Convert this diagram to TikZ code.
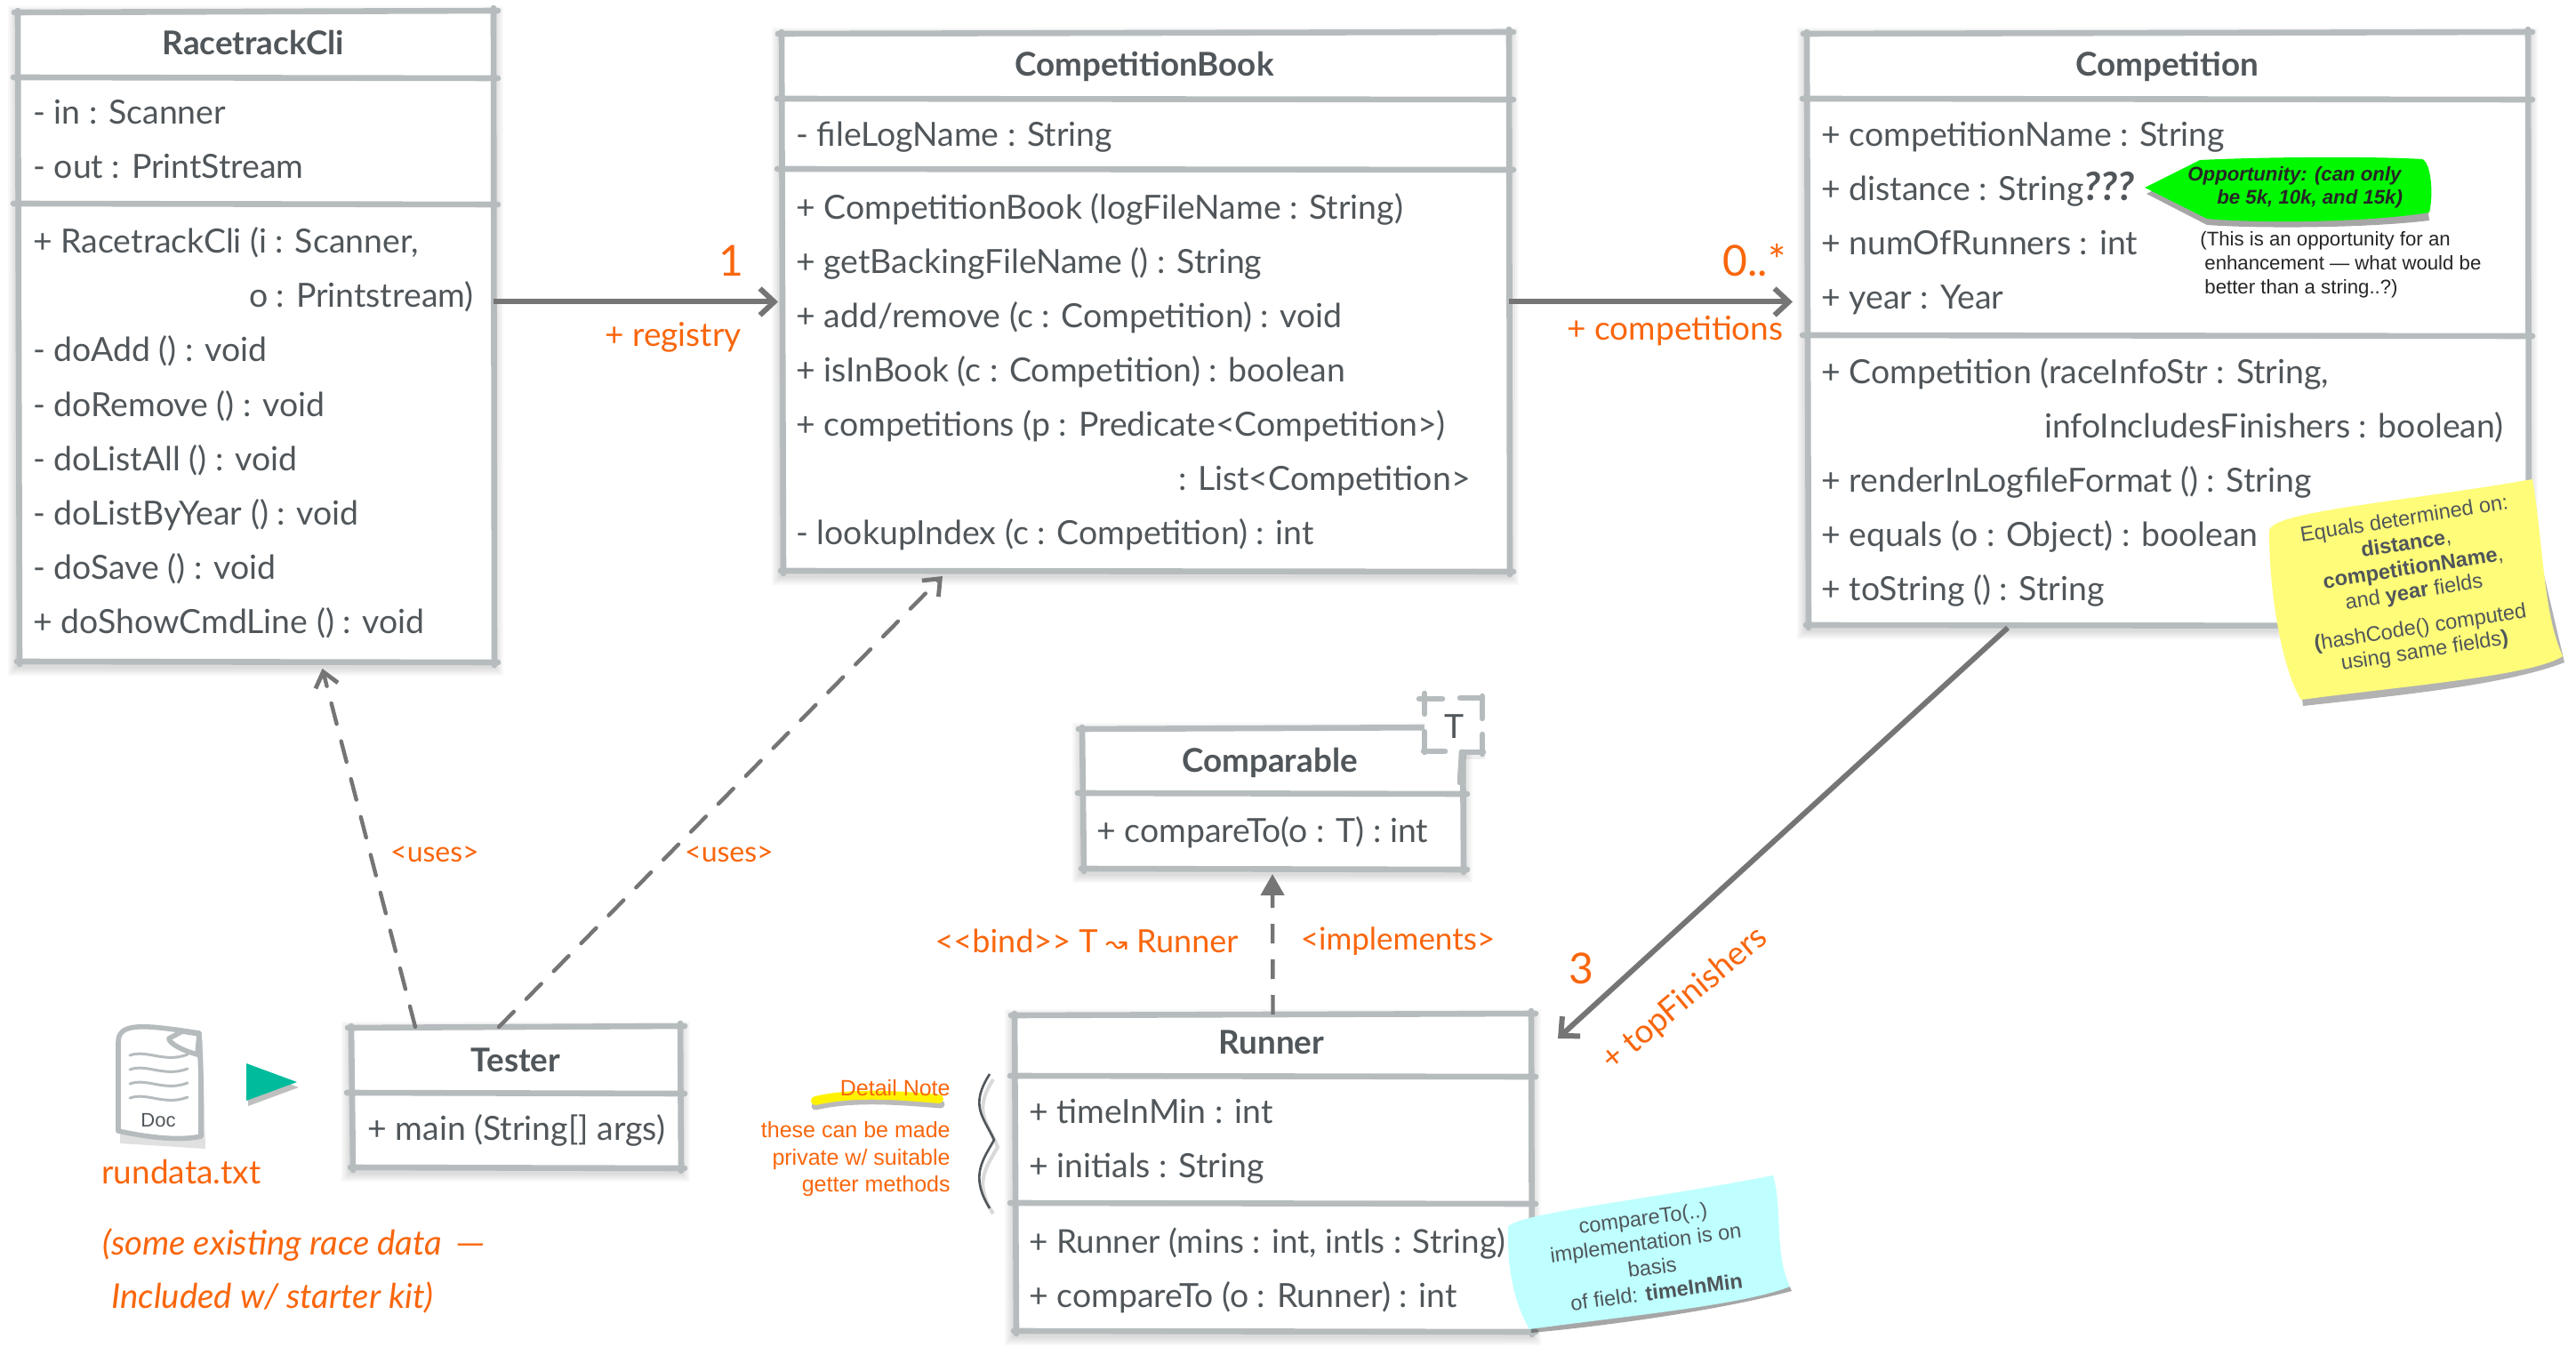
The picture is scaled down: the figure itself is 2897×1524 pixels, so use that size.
\documentclass[tikz,border=0pt]{standalone}
\usepackage{fontspec}
\setmainfont{Lato}
\newfontfamily\helv{Liberation Sans}
\newfontfamily\djv{DejaVu Sans}
\usetikzlibrary{arrows.meta,calc}
\definecolor{edge}{HTML}{B6BCBE}
\definecolor{ink}{HTML}{50565A}
\definecolor{wire}{HTML}{757575}
\definecolor{tang}{HTML}{F9660C}
\definecolor{tealmark}{HTML}{00BC9C}
\definecolor{sticky}{HTML}{FFFC79}
\definecolor{aqua}{HTML}{BFFFFF}
\definecolor{lime}{HTML}{00F900}
\tikzset{
  x=0.5pt,y=-0.5pt,
  boxbody/.style={rectangle,fill=white,inner sep=0pt,outer sep=0pt},
  border/.style={draw=edge,line width=3.3pt,line cap=round},
  rowtext/.style={anchor=mid west,inner sep=0pt,yshift=-3.5pt,text=ink,font=\fontsize{18.7}{23}\selectfont},
  titletext/.style={anchor=mid,inner sep=0pt,yshift=-4.2pt,text=ink,font=\fontsize{18.4}{23}\selectfont\bfseries},
  orangetext/.style={inner sep=0pt,text=tang,font=\fontsize{18.5}{23}\selectfont},
  smalltang/.style={inner sep=0pt,text=tang,font=\fontsize{16}{20}\selectfont},
  bignum/.style={inner sep=0pt,text=tang,font=\fontsize{24}{28}\selectfont},
  solidarrow/.style={draw=wire,line width=3pt,-{Straight Barb[length=8pt,width=15pt,line width=3pt]}},
  deparrow/.style={draw=wire,line width=2.2pt,line cap=round,dash pattern=on 12pt off 10pt,-{Straight Barb[length=8pt,width=13pt,line width=2.4pt]}},
  implarrow/.style={draw=wire,line width=2.2pt,dash pattern=on 11pt off 9pt,-{Triangle[length=12pt,width=13pt]}},
  notetext/.style={inner sep=0pt,align=center,text=ink,font=\helv\fontsize{11.8}{14}\selectfont},
  darknote/.style={inner sep=0pt,anchor=mid west,text=black!85,font=\helv\fontsize{11.1}{13}\selectfont},
}
\newcommand{\umlbox}[6]{%
  \pgfmathsetmacro\umlW{#3-#2}%
  \pgfmathsetmacro\umlH{#5-#4}%
  \foreach \grow in {11,9,7,5,3}{%
    \fill[black,opacity=.028] (#2-\grow,#4-\grow+5) rectangle (#3+\grow,#5+\grow+5);
  }%
  \node[boxbody,minimum width=\umlW*0.5pt,minimum height=\umlH*0.5pt] (#1) at ({(#2+#3)/2},{(#4+#5)/2}) {};
  \draw[border] (#2-4,#4+1) -- (#3+5,#4-1);
  \draw[border] (#2,#4-1) -- (#2+2,#5+3);
  \draw[border] (#3,#4-4) -- (#3+1,#5+4);
  \draw[border] (#2-1,#5) -- (#3+5,#5+1);
  \foreach \sep in {#6}{%
    \draw[border] (#2-5,\sep) -- (#3+5,\sep+1);
  }%
}
\newcommand{\rowt}[4]{\node[rowtext] (#1) at (#2,#3) {#4};}
\begin{document}
\begin{tikzpicture}
\useasboundingbox (0,0) rectangle (2897,1524);
\fill[white] (0,0) rectangle (2897,1524);

% ---------- RacetrackCli
\umlbox{rc}{20}{555}{13}{744}{87,229}
\node[titletext] (rct) at (285,48) {RacetrackCli};
\rowt{rc1}{37}{127}{- in : Scanner}
\rowt{rc2}{37}{188}{- out : PrintStream}
\rowt{rc3}{37}{272}{+ RacetrackCli (i : Scanner,}
\node[rowtext,anchor=mid east] (rc4) at (533,333) {o : Printstream)};
\rowt{rc5}{37}{394}{- doAdd () : void}
\rowt{rc6}{37}{456}{- doRemove () : void}
\rowt{rc7}{37}{517}{- doListAll () : void}
\rowt{rc8}{37}{578}{- doListByYear () : void}
\rowt{rc9}{37}{639}{- doSave () : void}
\rowt{rc10}{37}{700}{+ doShowCmdLine () : void}

% ---------- CompetitionBook
\umlbox{bk}{879}{1697}{37}{642}{111,190}
\node[titletext] (bkt) at (1287,72) {CompetitionBook};
\rowt{bk1}{895}{152}{- fileLogName : String}
\rowt{bk2}{895}{234}{+ CompetitionBook (logFileName : String)}
\rowt{bk3}{895}{295}{+ getBackingFileName () : String}
\rowt{bk4}{895}{356}{+ add/remove (c : Competition) : void}
\rowt{bk5}{895}{417}{+ isInBook (c : Competition) : boolean}
\rowt{bk6}{895}{478}{+ competitions (p : Predicate<Competition>)}
\node[rowtext,anchor=mid east] (bk7) at (1654,539) {: List<Competition>};
\rowt{bk8}{895}{600}{- lookupIndex (c : Competition) : int}

% ---------- Competition
\umlbox{cp}{2032}{2843}{37}{703}{111,377}
\node[titletext] (cpt) at (2437,72) {Competition};
\rowt{cp1}{2048}{152}{+ competitionName : String}
\node[rowtext] (cp2) at (2048,213) {+ distance : String{\fontsize{22}{23}\selectfont\textbf{\textit{???}}}};
\rowt{cp3}{2048}{274}{+ numOfRunners : int}
\rowt{cp4}{2048}{335}{+ year : Year}
\rowt{cp5}{2048}{419}{+ Competition (raceInfoStr : String,}
\node[rowtext,anchor=mid east] (cp6) at (2816,480) {infoIncludesFinishers : boolean)};
\rowt{cp7}{2048}{541}{+ renderInLogfileFormat () : String}
\rowt{cp8}{2048}{602}{+ equals (o : Object) : boolean}
\rowt{cp9}{2048}{663}{+ toString () : String}

% ---------- Comparable
\umlbox{cm}{1217}{1645}{819}{977}{892}
\node[titletext] (cmt) at (1428,855) {Comparable};
\rowt{cm1}{1233}{935}{+ compareTo(o : T) : int}
\node[boxbody,minimum width=34pt,minimum height=30pt] (tb) at (1636,816) {};
\fill[black,opacity=.06] (1645,846) rectangle (1670,854);
\draw[border] (1596,786) -- (1622,786);
\draw[border] (1642,785) -- (1667,785);
\draw[border] (1602,780) -- (1602,803);
\draw[border] (1667,783) -- (1667,808);
\draw[border] (1602,823) -- (1602,846);
\draw[border] (1667,826) -- (1667,848);
\draw[border] (1601,845) -- (1625,845);
\draw[border] (1644,846) -- (1668,846);
\draw[border] (1644,846) -- (1642,880);
\node[rowtext,anchor=mid] (tbt) at (1636,818) {T};

% ---------- Tester
\umlbox{ts}{395}{765}{1155}{1313}{1229}
\node[titletext] (tst) at (580,1192) {Tester};
\rowt{ts1}{413}{1270}{+ main (String[] args)}

% ---------- Runner
\umlbox{rn}{1141}{1722}{1141}{1497}{1210,1353}
\node[titletext] (rnt) at (1430,1172) {Runner};
\rowt{rn1}{1157}{1251}{+ timeInMin : int}
\rowt{rn2}{1157}{1312}{+ initials : String}
\node[rowtext,font=\fontsize{18.4}{23}\selectfont] (rn3) at (1157,1397) {+ Runner (mins : int, intls : String)};
\rowt{rn4}{1157}{1458}{+ compareTo (o : Runner) : int}

% ---------- connectors
\draw[solidarrow] (rc.east |- bk.west) -- ($(bk.west)+(-4,0)$);
\draw[solidarrow] (bk.east) -- ($(cp.west |- bk.east)+(-16,0)$);
\coordinate (cpOut) at (2258,706);
\coordinate (rnIn) at (1752,1168);
\draw[solidarrow] (cpOut) -- (rnIn);
\draw[deparrow] ($(ts.north)+(-113,0)$) -- ($(rc.south)+(75,8)$);
\draw[deparrow] ($(ts.north)+(-19,0)$) -- ($(bk.south west)+(181,6)$);
\draw[implarrow] (rn.north) -- ($(cm.south)+(0,6)$);

% ---------- connector labels
\node[bignum] (l1) at (822,293) {1};
\node[orangetext] (l2) at (757,379) {+ registry};
\node[bignum] (l3) at (1973,293) {0..*};
\node[orangetext] (l4) at (1884,372) {+ competitions};
\node[smalltang] (l5) at (489,961) {<uses>};
\node[smalltang] (l6) at (820,961) {<uses>};
\node[smalltang,font=\fontsize{18}{20}\selectfont] (l7) at (1222,1058) {<{}<bind>{}> T {\djv\fontsize{15}{16}\selectfont ↝} Runner};
\node[smalltang,font=\fontsize{17.5}{20}\selectfont] (l8) at (1572,1059) {<implements>};
\node[bignum] (l9) at (1778,1089) {3};
\node[orangetext,rotate=40] (l10) at (1895,1124) {+ topFinishers};

% ---------- document icon
\fill[black,opacity=.12] (135,1170) -- (228,1170) -- (231,1292) -- (135,1286) -- cycle;
\draw[draw=edge,line width=2.8pt,fill=white,line join=round] (133,1172) .. controls (133,1150) and (160,1152) .. (224,1162) -- (226,1210) -- (226,1278) .. controls (200,1284) and (160,1278) .. (133,1272) -- cycle;
\draw[draw=edge,line width=2.8pt,fill=white,line join=round] (224,1163) -- (222,1186) .. controls (200,1180) and (190,1172) .. (190,1168) -- (205,1160) -- cycle;
\draw[draw=edge,line width=2.8pt] (222,1186) -- (226,1188);
\foreach \dy in {0,16,32,48}{%
  \draw[draw=edge,line width=1.5pt,line cap=round] (146,1187+\dy) .. controls (165,1180+\dy) and (185,1196+\dy) .. (211,1186+\dy);
}
\node[inner sep=0pt,text=ink,font=\helv\fontsize{11}{13}\selectfont] (doc) at (178,1260) {Doc};
\fill[black,opacity=.25] (279,1202) -- (336,1223) -- (279,1244) -- cycle;
\fill[tealmark] (277,1196) -- (334,1217) -- (277,1238) -- cycle;
\node[orangetext,anchor=mid west,yshift=-3pt] (rd) at (114,1320) {rundata.txt};
\node[orangetext,anchor=mid west,yshift=-3pt,font=\fontsize{19.2}{23}\selectfont\itshape] (ex1) at (115,1400) {(some existing race data\hspace{3pt} \scalebox{1.2}[1]{—}};
\node[orangetext,anchor=mid west,yshift=-3pt,font=\fontsize{19.2}{23}\selectfont\itshape] (ex2) at (125,1460) {Included w/ starter kit)};

% ---------- detail note
\draw[black!45,line width=4.5pt,line cap=round,opacity=.6] (917,1244) .. controls (960,1234) and (1010,1238) .. (1058,1242);
\draw[yellow,line width=5pt,line cap=round] (917,1238) .. controls (960,1228) and (1010,1232) .. (1056,1236);
\node[inner sep=0pt,anchor=mid east,text=tang,font=\helv\fontsize{12.5}{15}\selectfont] (dn) at (1069,1227) {Detail Note};
\node[inner sep=0pt,anchor=north east,align=right,text=tang,font=\helv\fontsize{12.5}{15.3}\selectfont] (dn2) at (1069,1261) {these can be made\\private w/ suitable\\getter methods};
\draw[black!15,line width=2pt] (1117,1214) .. controls (1094,1250) and (1110,1262) .. (1122,1290) .. controls (1110,1312) and (1094,1330) .. (1117,1365);
\draw[ink,line width=1.3pt] (1113,1208) .. controls (1090,1244) and (1106,1256) .. (1118,1282) .. controls (1106,1304) and (1090,1322) .. (1113,1359);

% ---------- green callout
\fill[black,opacity=.35] (2414,218) -- (2474,187) .. controls (2557,181) and (2677,181) .. (2724,185) -- (2732,248) .. controls (2657,257) and (2537,257) .. (2482,253) -- cycle;
\fill[lime] (2412,211) -- (2474,180) .. controls (2557,176) and (2677,176) .. (2724,179) .. controls (2734,183) and (2737,218) .. (2732,239) .. controls (2657,251) and (2537,251) .. (2482,246) -- cycle;
\node[darknote,font=\helv\bfseries\itshape\fontsize{11.1}{13}\selectfont] (g1) at (2460,198) {Opportunity: (can only};
\node[darknote,font=\helv\bfseries\itshape\fontsize{11.1}{13}\selectfont] (g2) at (2493,224) {be 5k, 10k, and 15k)};
\node[darknote] (o1) at (2474,271) {(This is an opportunity for an};
\node[darknote] (o2) at (2479,298) {enhancement — what would be};
\node[darknote] (o3) at (2479,325) {better than a string..?)};

% ---------- yellow note
\fill[black,opacity=.3] (2590,794) .. controls (2700,782) and (2820,770) .. (2884,745) -- (2850,600) -- (2570,640) -- cycle;
\fill[sticky] (2552,597) .. controls (2554,575) and (2700,565) .. (2848,539) .. controls (2860,610) and (2860,690) .. (2882,738) .. controls (2850,760) and (2700,772) .. (2588,787) .. controls (2570,760) and (2552,680) .. (2552,597) -- cycle;
\begin{scope}[every node/.append style={notetext,rotate=9}]
\node (y1) at (2704,585) {Equals determined on:};
\node (y2) at (2706,612) {\textbf{distance},};
\node (y3) at (2714,640) {\textbf{competitionName},};
\node (y4) at (2715,667) {and \textbf{year} fields};
\node (y5) at (2722,707) {\textbf{(}hashCode() computed};
\node (y6) at (2727,733) {using same fields\textbf{)}};
\end{scope}

% ---------- blue note
\fill[black,opacity=.35] (1722,1499) .. controls (1820,1490) and (1940,1472) .. (2015,1452) -- (1990,1400) -- (1715,1450) -- cycle;
\fill[aqua] (1696,1380) .. controls (1704,1365) and (1850,1350) .. (1994,1322) .. controls (2005,1360) and (1995,1410) .. (2013,1447) .. controls (1960,1468) and (1830,1480) .. (1720,1495) .. controls (1700,1460) and (1695,1420) .. (1696,1380) -- cycle;
\begin{scope}[every node/.append style={notetext,rotate=7.5}]
\node (b1) at (1848,1372) {compareTo(..)};
\node (b2) at (1851,1400) {implementation is on};
\node (b3) at (1858,1425) {basis};
\node (b4) at (1863,1453) {of field: \textbf{timeInMin}};
\end{scope}
\end{tikzpicture}
\end{document}
